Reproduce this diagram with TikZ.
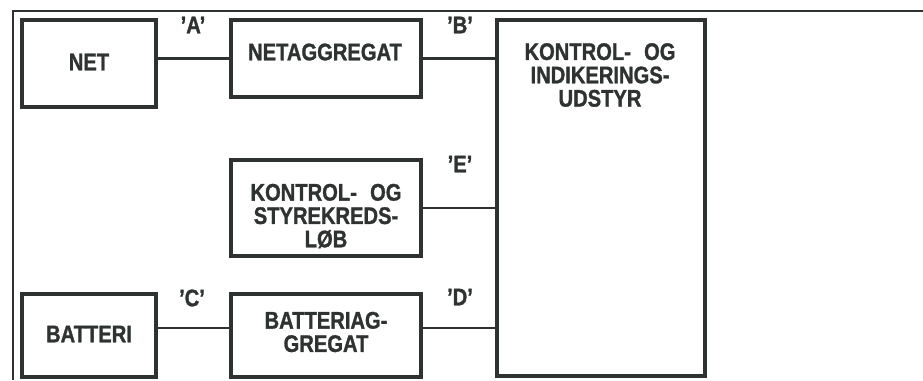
\documentclass[tikz,border=0pt]{standalone}
\usepackage{fontspec}
\setmainfont{Liberation Sans}[FakeStretch=0.84,FakeBold=1.2]
\usetikzlibrary{calc}
\definecolor{ink}{HTML}{2E3332}
\begin{document}
\begin{tikzpicture}[x=0.75pt,y=-0.75pt,
  box/.style={draw=ink,line width=3.4pt,inner sep=0pt},
  wire/.style={draw=ink,line width=2.2pt},
  frame/.style={draw=ink,line width=1.2pt},
  txt/.style={text=ink,align=center,inner sep=0pt,font={\fontsize{18}{17.5}\selectfont\bfseries}},
  sig/.style={text=ink,inner sep=0pt,font={\fontsize{18}{18}\selectfont\bfseries}}]
\useasboundingbox (0,0) rectangle (923,380);
% outer frame (partial)
\coordinate (fl) at (13,380);
\coordinate (fc) at (13,11);
\coordinate (fr) at (923,11);
\draw[frame] (fl) -- (fc) -- (fr);
% boxes
\node[box,minimum width=134*0.75pt,minimum height=87*0.75pt] (net) at (89,63.5) {};
\node[box,minimum width=190*0.75pt,minimum height=77*0.75pt] (netagg) at (326,58.5) {};
\node[box,minimum width=190*0.75pt,minimum height=96*0.75pt] (ctrl) at (326,208) {};
\node[box,minimum width=134*0.75pt,minimum height=83*0.75pt] (batt) at (89,335.5) {};
\node[box,minimum width=190*0.75pt,minimum height=83*0.75pt] (battagg) at (326,335.5) {};
\node[box,minimum width=208*0.75pt,minimum height=356*0.75pt] (big) at (601,198) {};
% texts
\node[txt] (tnet) at (89,62) {NET};
\node[txt] (tnetagg) at (325,52) {NETAGGREGAT};
\node[txt] (tctrl) at (326,216) {KONTROL-\hspace{0.55em}OG\\STYREKREDS-\\LØB};
\node[txt] (tbatt) at (89,334) {BATTERI};
\node[txt] (tbattagg) at (326,332) {BATTERIAG-\\GREGAT};
\node[txt] (tbig) at (600,75) {KONTROL-\hspace{0.55em}OG\\INDIKERINGS-\\UDSTYR};
% connectors
\coordinate (cy) at (0,328);
\draw[wire] (net.east |- netagg.west) -- (netagg.west);
\draw[wire] (netagg.east) -- (netagg.east -| big.west);
\draw[wire] (ctrl.east) -- (ctrl.east -| big.west);
\draw[wire] (batt.east |- cy) -- (battagg.west |- cy);
\draw[wire] (battagg.east |- cy) -- (big.west |- cy);
% signal labels
\node[sig] (la) at (193,25) {’A’};
\node[sig] (lb) at (460,25) {’B’};
\node[sig] (le) at (460,164) {’E’};
\node[sig] (lc) at (192,298) {’C’};
\node[sig] (ld) at (460,297) {’D’};
\end{tikzpicture}
\end{document}
